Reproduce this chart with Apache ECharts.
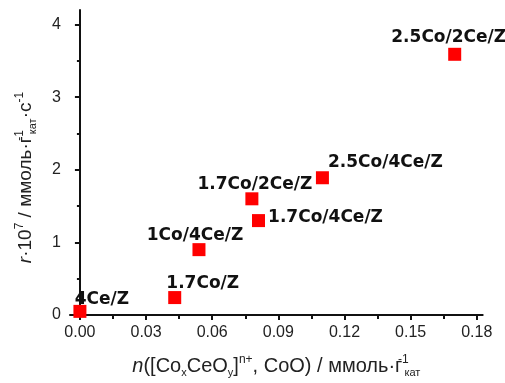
<!DOCTYPE html>
<html><head><meta charset="utf-8">
<script src="https://cdn.jsdelivr.net/npm/echarts@6/dist/echarts.min.js"></script>
<style>html,body{margin:0;padding:0;background:#fff}#c{width:505px;height:383px}</style>
</head><body><div id="c"></div>
<script>
const sampleNames = ['4Ce/Z','1.7Co/Z','1Co/4Ce/Z','1.7Co/2Ce/Z','1.7Co/4Ce/Z','2.5Co/4Ce/Z','2.5Co/2Ce/Z'];
const nValues = [0.000, 0.043, 0.054, 0.078, 0.081, 0.110, 0.170];
const rValues = [0.05, 0.24, 0.90, 1.60, 1.30, 1.89, 3.59];
const xMajorTicks = [0, 0.03, 0.06, 0.09, 0.12, 0.15, 0.18];
const xMinorTicks = [0.015, 0.045, 0.075, 0.105, 0.135, 0.165];
const yMajorTicks = [0, 1, 2, 3, 4];
const yMinorTicks = [0.5, 1.5, 2.5, 3.5];

const labelOffsets = [[22,-12],[28,-14],[-4,-14],[3,-14],[67,-3],[63,-15],[-6,-17]];

const chart = echarts.init(document.getElementById('c'), null, {renderer:'canvas'});
const FONT = 'Liberation Sans, Arial, sans-serif';
const axisCommon = {
  axisLine:{show:true, lineStyle:{color:'#111', width:2}},
  splitLine:{show:false},
};
function richTitle(main, small) {
  return {
    t:{fontSize:main, fontFamily:FONT, color:'#222', lineHeight:24},
    i:{fontSize:main, fontFamily:FONT, color:'#222', fontStyle:'italic', lineHeight:24},
    sup:{fontSize:small, fontFamily:FONT, color:'#222', verticalAlign:'top', lineHeight:15},
    sup0:{fontSize:small, fontFamily:FONT, color:'#222', verticalAlign:'top', lineHeight:15, width:2},
    sub:{fontSize:small-1, fontFamily:FONT, color:'#222', verticalAlign:'bottom', lineHeight:13}
  };
}
const data = nValues.map((x,i)=>({
  value:[x, rValues[i]],
  name: sampleNames[i],
  label:{offset: labelOffsets[i]}
}));
chart.setOption({
  animation:false,
  grid:{left:70, top:10, right:22.3, bottom:68, containLabel:false},
  xAxis:[{
    type:'value', min:-0.0045, max:0.1827, position:'bottom',
    ...axisCommon,
    axisTick:{show:true, inside:false, length:5, lineStyle:{color:'#111', width:2}, customValues:xMajorTicks},
    axisLabel:{show:true, customValues:xMajorTicks, margin:10, fontSize:16, fontFamily:FONT, color:'#222',
      formatter:v=>v.toFixed(2)},
    name:'{i|n}{t|([Co}{sub|x}{t|CeO}{sub|y}{t|]}{sup|n+}{t|, CoO) / ммоль·г}{sup0|-1}{sub|кат}',
    nameLocation:'middle', nameGap:39,
    nameTextStyle:{rich:richTitle(20, 12)}
  },{
    type:'value', min:-0.0045, max:0.1827, position:'bottom',
    axisLine:{show:false}, splitLine:{show:false}, axisLabel:{show:false},
    axisTick:{show:true, length:4, lineStyle:{color:'#111', width:2}, customValues:xMinorTicks}
  }],
  yAxis:[{
    type:'value', min:0, max:4.2, position:'left',
    ...axisCommon,
    axisTick:{show:true, inside:false, length:5, lineStyle:{color:'#111', width:2}, customValues:yMajorTicks},
    axisLabel:{show:true, customValues:yMajorTicks, margin:9, fontSize:16, fontFamily:FONT, color:'#222'},
    name:'{i|r}{t|·10}{sup|7}{t| / ммоль·г}{sup0|-1}{sub|кат}{t|·с}{sup|-1}',
    nameLocation:'middle', nameGap:32, nameRotate:90,
    nameTextStyle:{rich:richTitle(19, 12), padding:[0,30,0,0]}
  },{
    type:'value', min:0, max:4.2, position:'left',
    axisLine:{show:false}, splitLine:{show:false}, axisLabel:{show:false},
    axisTick:{show:true, length:3, lineStyle:{color:'#111', width:2}, customValues:yMinorTicks}
  }],
  series:[{
    type:'scatter', xAxisIndex:0, yAxisIndex:0,
    symbol:'rect', symbolSize:13,
    itemStyle:{color:'#ff0000', opacity:1},
    label:{show:true, position:'inside', formatter:'{b}', fontFamily:'DejaVu Sans', fontWeight:'bold', fontSize:17, color:'#111', opacity:1},
    data:data, z:2
  }]
});
</script></body></html>
